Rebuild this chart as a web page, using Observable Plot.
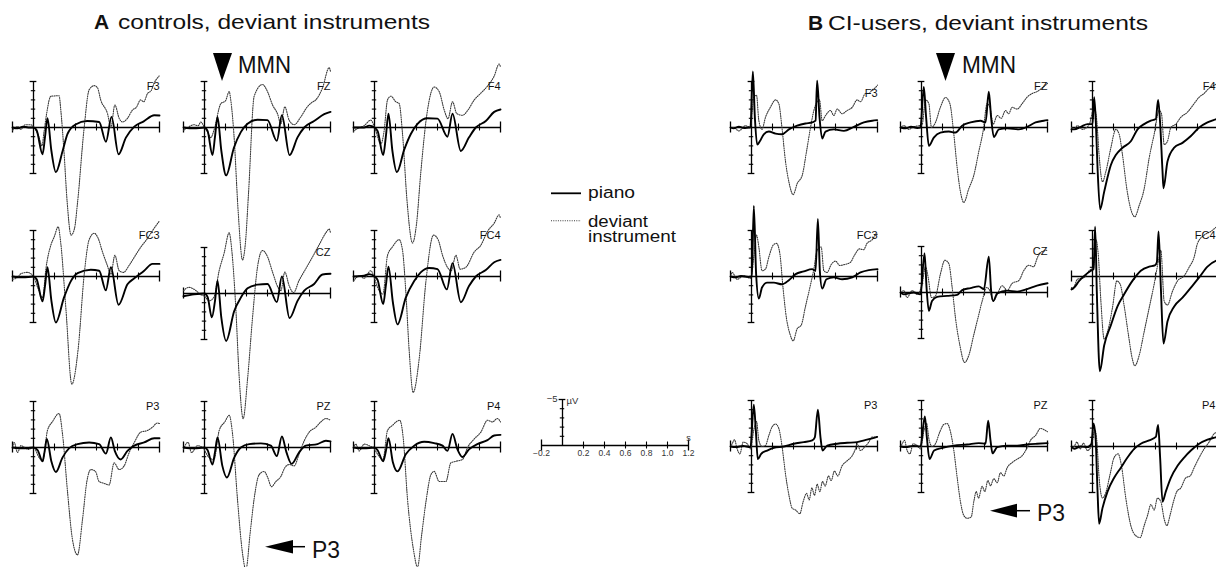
<!DOCTYPE html>
<html>
<head>
<meta charset="utf-8">
<script src="https://cdn.jsdelivr.net/npm/d3@7"></script>
<script src="https://cdn.jsdelivr.net/npm/@observablehq/plot@0.6"></script>
<style>
  html, body { margin: 0; padding: 0; background: #fff; }
  #wrap { position: relative; width: 1216px; height: 567px; overflow: hidden; background: #fff; font-family: "Liberation Sans", Arial, sans-serif; }
  #wrap svg.panel { position: absolute; }
  #overlay { position: absolute; left: 0; top: 0; pointer-events: none; }
</style>
</head>
<body>
<div id="wrap"></div>
<script>
// ---------- axis ticks ----------
const xTicks = [-0.2, 0.2, 0.4, 0.6, 0.8, 1.0, 1.2];
const xTickLabels = ["\u22120.2", "0.2", "0.4", "0.6", "0.8", "1.0", "1.2"];
const yTicks = [-5, -4, -3, -2, -1, 1, 2, 3, 4, 5];
const yUnitTick = -5;

// ---------- A: controls (time s, amplitude µV; negative up) ----------
const A_F3_piano = [[-0.2,0],[-0.15,0.1],[-0.1,-0.1],[-0.05,0],[0,0],[0.03,0.3],[0.086,2.9],[0.11,1.0],[0.133,-1.0],[0.17,2.5],[0.213,4.85],[0.276,2.6],[0.324,0.7],[0.40,-0.33],[0.51,-0.7],[0.625,-0.6],[0.69,1.55],[0.743,-1.15],[0.81,2.9],[0.88,1.1],[0.96,-0.1],[1.05,-0.67],[1.15,-1.33],[1.2,-1.3]];
const A_F3_dev = [[-0.2,0.3],[-0.15,-0.1],[-0.12,0.2],[-0.08,-0.3],[-0.03,-0.3],[0.006,0],[0.054,1.1],[0.08,2.0],[0.1,0.5],[0.125,-1.5],[0.165,-3.4],[0.244,-3.45],[0.26,-1.9],[0.29,2.55],[0.32,8.0],[0.358,11.7],[0.39,11.0],[0.42,8.1],[0.48,0.3],[0.53,-4.1],[0.578,-4.55],[0.61,-4.3],[0.64,-3.0],[0.705,-1.5],[0.737,0],[0.775,-2.45],[0.816,-1.0],[0.848,-0.6],[0.895,-1.0],[0.943,-1.9],[0.98,-2.2],[1.02,-3.0],[1.05,-2.8],[1.086,-3.7],[1.12,-4.0],[1.15,-4.85],[1.197,-5.6]];
const A_FZ_piano = [[-0.2,0],[-0.1,0.1],[0,0],[0.03,0.4],[0.076,3.0],[0.1,1.0],[0.124,-1.15],[0.16,2.5],[0.206,5.2],[0.28,2.2],[0.346,0.5],[0.41,-0.4],[0.505,-0.85],[0.6,-0.8],[0.689,1.45],[0.737,-1.33],[0.81,3.0],[0.886,1.07],[0.95,0],[1.044,-0.7],[1.14,-1.45],[1.2,-1.7]];
const A_FZ_dev = [[-0.2,0.3],[-0.16,0],[-0.1,-0.3],[-0.06,-0.2],[-0.035,-0.6],[0,0],[0.03,0.5],[0.06,1.1],[0.09,0.3],[0.156,-2.6],[0.2,-2.9],[0.235,-3.9],[0.25,-3.0],[0.28,0.7],[0.32,9.0],[0.362,14.4],[0.39,12.5],[0.42,7.0],[0.473,-3.4],[0.552,-4.67],[0.6,-3.9],[0.648,-2.45],[0.695,-1.5],[0.727,-0.4],[0.765,-2.25],[0.806,-0.8],[0.854,-0.3],[0.917,-1.15],[0.98,-2.26],[1.02,-2.7],[1.06,-3.0],[1.124,-4.3],[1.187,-6.5],[1.2,-6.1]];
const A_F4_piano = [[-0.2,0],[-0.1,0],[-0.05,-0.2],[0,0],[0.03,0.4],[0.083,3.0],[0.108,1.0],[0.133,-1.5],[0.17,2.5],[0.213,4.85],[0.283,2.4],[0.346,0.7],[0.41,-0.4],[0.505,-1.0],[0.6,-0.96],[0.695,1.0],[0.743,-1.5],[0.822,2.55],[0.9,1.07],[0.965,0],[1.06,-0.7],[1.14,-1.7],[1.2,-1.96]];
const A_F4_dev = [[-0.2,0.4],[-0.16,0.1],[-0.1,-0.2],[-0.035,-0.8],[0.01,0.3],[0.06,1.8],[0.09,0.5],[0.124,-3.0],[0.156,-3.4],[0.203,-2.8],[0.235,-2.6],[0.267,0.7],[0.31,8.0],[0.362,12.55],[0.4,10.5],[0.44,5.0],[0.505,-1.9],[0.568,-4.4],[0.616,-3.9],[0.664,-1.9],[0.7,-0.96],[0.743,-2.8],[0.784,-1.5],[0.838,-1.33],[0.89,-1.9],[0.95,-3.0],[1.01,-3.7],[1.076,-4.5],[1.14,-5.6],[1.187,-6.9],[1.2,-6.6]];
const A_FC3_piano = [[-0.2,0],[-0.1,0.1],[0,0],[0.03,0.3],[0.086,2.7],[0.11,1.0],[0.133,-1.0],[0.17,2.6],[0.213,5.0],[0.29,2.3],[0.356,0.5],[0.42,-0.37],[0.546,-0.74],[0.625,-0.63],[0.689,1.5],[0.737,-1.0],[0.81,3.07],[0.895,0.85],[0.96,0.2],[1.054,-0.63],[1.133,-1.37],[1.2,-1.37]];
const A_FC3_dev = [[-0.2,0.3],[-0.15,0.1],[-0.12,-0.3],[-0.06,-0.45],[0,0],[0.04,1.2],[0.086,2.3],[0.12,-1.0],[0.165,-3.4],[0.197,-4.3],[0.235,-5.4],[0.26,-3.6],[0.308,3.4],[0.365,11.7],[0.425,7.9],[0.483,-0.26],[0.53,-4.0],[0.578,-4.7],[0.616,-4.15],[0.657,-2.67],[0.698,-1.37],[0.737,-0.26],[0.775,-2.3],[0.816,-0.63],[0.857,-0.45],[0.91,-1.2],[0.96,-2.1],[1.022,-3.2],[1.086,-4.15],[1.15,-5.26],[1.197,-6.0]];
const A_CZ_piano = [[-0.2,0.3],[-0.1,0.1],[0,0],[0.03,0.4],[0.07,2.6],[0.1,0.8],[0.124,-1.4],[0.16,2.6],[0.206,5.15],[0.283,1.9],[0.346,0.45],[0.41,-0.56],[0.505,-0.96],[0.6,-1.04],[0.689,0.93],[0.737,-1.85],[0.81,2.67],[0.886,0.8],[0.95,-0.3],[1.044,-1.04],[1.124,-2.07],[1.2,-2.15]];
const A_CZ_dev = [[-0.2,-0.3],[-0.15,-0.67],[-0.08,-0.3],[-0.04,0.1],[0,0.3],[0.044,0.8],[0.09,0.4],[0.14,-2.5],[0.187,-4.4],[0.235,-6.6],[0.26,-4.7],[0.298,1.55],[0.33,9.0],[0.368,13.6],[0.41,9.3],[0.457,2.67],[0.505,-2.9],[0.552,-4.67],[0.6,-4.0],[0.648,-2.33],[0.7,-0.67],[0.727,-0.3],[0.765,-2.33],[0.806,-0.85],[0.848,-0.1],[0.9,-1.4],[0.965,-2.7],[1.03,-4.0],[1.092,-5.3],[1.156,-6.6],[1.187,-7.0],[1.2,-6.6]];
const A_FC4_piano = [[-0.2,0],[-0.1,-0.1],[-0.05,-0.26],[0,0],[0.03,0.4],[0.083,3.0],[0.108,1.0],[0.133,-1.07],[0.175,2.8],[0.219,5.2],[0.298,2.3],[0.378,0.5],[0.44,-0.45],[0.52,-0.93],[0.6,-0.8],[0.689,1.4],[0.743,-1.45],[0.822,2.8],[0.9,1.04],[0.965,0],[1.06,-0.7],[1.14,-1.55],[1.2,-1.8]];
const A_FC4_dev = [[-0.2,0.5],[-0.14,-0.1],[-0.1,0.2],[-0.035,-0.63],[0,0.2],[0.03,1.2],[0.08,1.9],[0.124,-2.3],[0.17,-3.2],[0.235,-4.0],[0.267,-2.85],[0.298,1.6],[0.33,8.0],[0.368,12.6],[0.425,9.0],[0.49,0.5],[0.562,-4.5],[0.606,-4.0],[0.648,-2.3],[0.695,-1.0],[0.73,-0.63],[0.775,-2.3],[0.816,-0.8],[0.87,-1.0],[0.95,-2.67],[1.013,-3.4],[1.076,-4.9],[1.14,-5.8],[1.187,-6.7],[1.2,-6.3]];
const A_P3_piano = [[-0.2,0],[-0.1,0.1],[0,0],[0.04,0.3],[0.086,1.5],[0.105,0.5],[0.127,-0.93],[0.17,1.5],[0.213,2.67],[0.276,1.1],[0.34,0.07],[0.42,-0.37],[0.53,-0.55],[0.625,-0.37],[0.69,0.67],[0.737,-1.1],[0.775,0.4],[0.83,1.3],[0.895,0.37],[0.96,-0.2],[1.054,-0.55],[1.15,-1.0],[1.2,-1.0]];
const A_P3_dev = [[-0.2,0],[-0.184,-0.55],[-0.152,0.55],[-0.12,-0.2],[-0.05,0.2],[0,0],[0.054,1.1],[0.086,1.5],[0.133,-1.85],[0.18,-2.8],[0.244,-3.7],[0.276,-1.5],[0.324,4.8],[0.371,10.0],[0.419,11.67],[0.467,7.8],[0.508,3.7],[0.546,2.4],[0.59,2.6],[0.625,3.7],[0.673,3.9],[0.72,4.07],[0.768,1.67],[0.816,2.4],[0.863,2.0],[0.911,0.55],[0.96,-0.55],[1.022,-1.67],[1.086,-1.85],[1.133,-2.2],[1.18,-2.67],[1.2,-2.6]];
const A_PZ_piano = [[-0.2,0],[-0.1,0.1],[0,0],[0.03,0.3],[0.076,1.85],[0.1,0.5],[0.124,-1.1],[0.17,2.0],[0.213,3.26],[0.283,1.1],[0.346,0],[0.425,-0.37],[0.537,-0.45],[0.632,-0.2],[0.689,0.93],[0.737,-1.2],[0.78,0.5],[0.83,1.78],[0.9,0.55],[0.965,-0.2],[1.076,-0.37],[1.156,-0.74],[1.2,-0.67]];
const A_PZ_dev = [[-0.2,0.2],[-0.178,-0.37],[-0.156,-0.55],[-0.124,0.55],[-0.067,-0.2],[-0.019,0],[0.044,1.1],[0.09,1.3],[0.14,-1.85],[0.194,-2.8],[0.235,-3.5],[0.267,-1.5],[0.314,5.6],[0.362,11.5],[0.394,13.3],[0.435,9.26],[0.473,5.55],[0.52,2.96],[0.568,2.6],[0.6,3.2],[0.638,4.26],[0.68,3.7],[0.727,3.15],[0.765,2.2],[0.806,1.85],[0.854,2.0],[0.9,0.74],[0.95,-0.74],[0.997,-1.67],[1.06,-2.2],[1.108,-2.78],[1.156,-3.15],[1.2,-2.96]];
const A_P4_piano = [[-0.2,0],[-0.1,0.1],[0,0],[0.03,0.3],[0.083,1.5],[0.108,0.4],[0.133,-1.0],[0.175,1.6],[0.219,2.6],[0.298,0.74],[0.378,-0.2],[0.473,-0.63],[0.568,-0.48],[0.648,-0.2],[0.695,0.37],[0.743,-1.48],[0.79,0.2],[0.838,1.04],[0.9,0.2],[0.98,-0.37],[1.076,-0.8],[1.14,-1.3],[1.2,-1.37]];
const A_P4_dev = [[-0.2,0],[-0.178,-0.37],[-0.146,0.37],[-0.098,-0.37],[-0.051,-0.2],[0,0.2],[0.03,0.74],[0.08,1.3],[0.124,-1.85],[0.17,-2.4],[0.24,-2.96],[0.273,-1.1],[0.314,5.55],[0.371,11.1],[0.41,13.0],[0.448,9.6],[0.49,5.9],[0.537,2.96],[0.568,2.6],[0.616,3.7],[0.68,3.7],[0.727,1.67],[0.775,1.5],[0.838,1.3],[0.886,0],[0.95,-0.93],[1.013,-1.67],[1.076,-2.96],[1.124,-2.78],[1.17,-3.15],[1.2,-2.78]];

// ---------- B: CI-users ----------
const B_F3_piano = [[-0.2,0],[-0.17,0.1],[-0.12,-0.1],[-0.07,0.05],[-0.025,0],[-0.01,0],[0.013,-6.1],[0.032,-1.1],[0.054,1.85],[0.079,1.5],[0.117,0.74],[0.165,0.44],[0.229,0.67],[0.29,0.74],[0.356,0.2],[0.435,-0.2],[0.514,-0.44],[0.578,-0.55],[0.61,-0.74],[0.625,-5.1],[0.648,-1.1],[0.673,1.2],[0.705,0.44],[0.784,0.2],[0.88,0.37],[0.975,-0.07],[1.07,-0.55],[1.15,-0.74],[1.197,-0.8]];
const B_F3_dev = [[-0.2,0],[-0.168,0],[-0.121,0.37],[-0.057,-0.2],[-0.01,0],[0.022,-3.3],[0.048,-3.5],[0.07,-0.74],[0.1,0.2],[0.133,-1.1],[0.18,-2.2],[0.229,-3.0],[0.26,-2.6],[0.29,0],[0.324,3.7],[0.356,5.9],[0.397,7.3],[0.435,6.1],[0.483,5.2],[0.524,2.6],[0.562,0],[0.594,-1.85],[0.648,-3.0],[0.673,-0.74],[0.705,-1.3],[0.752,-1.85],[0.784,-1.3],[0.816,-2.0],[0.864,-1.5],[0.911,-1.85],[0.96,-2.2],[1.006,-3.0],[1.038,-2.8],[1.086,-3.7],[1.117,-3.7],[1.15,-4.1],[1.172,-4.26],[1.2,-4.6]];
const B_FZ_piano = [[-0.2,0],[-0.15,0.1],[-0.1,-0.1],[-0.04,0.05],[-0.01,0],[0.022,-4.4],[0.044,-1.1],[0.07,2.0],[0.117,1.1],[0.18,0.55],[0.26,0.44],[0.324,0.55],[0.387,-0.2],[0.467,-0.55],[0.562,-0.74],[0.61,-0.55],[0.641,-3.9],[0.663,-1.1],[0.689,1.04],[0.737,0.2],[0.816,0.1],[0.927,0.2],[1.006,-0.07],[1.086,-0.55],[1.165,-0.74],[1.2,-0.8]];
const B_FZ_dev = [[-0.2,0],[-0.168,-0.2],[-0.121,0.2],[-0.073,-0.07],[0.006,-0.3],[0.038,-3.0],[0.07,-2.6],[0.095,0],[0.133,-0.55],[0.18,-2.2],[0.229,-3.26],[0.27,-2.6],[0.308,0.74],[0.34,4.4],[0.371,7.0],[0.403,8.15],[0.45,6.67],[0.498,5.2],[0.546,2.6],[0.587,0.37],[0.625,-2.6],[0.651,-2.2],[0.683,-0.37],[0.721,-1.3],[0.76,-1.0],[0.8,-1.85],[0.83,-1.5],[0.864,-2.2],[0.911,-2.0],[0.959,-2.6],[1.006,-3.3],[1.054,-3.7],[1.1,-3.9],[1.149,-4.3],[1.2,-4.8]];
const B_F4_piano = [[-0.2,0.2],[-0.175,0.2],[-0.111,-0.07],[-0.048,-0.37],[0,-0.37],[0.016,-3.3],[0.032,-0.5],[0.048,4.4],[0.073,8.9],[0.111,7.0],[0.175,4.07],[0.222,3.0],[0.286,2.2],[0.365,1.5],[0.429,0.2],[0.492,-0.37],[0.556,-0.74],[0.603,-0.93],[0.625,-3.0],[0.644,-0.5],[0.667,4.8],[0.676,6.6],[0.714,3.7],[0.778,2.2],[0.857,1.67],[0.937,0.93],[1.016,0],[1.095,-0.55],[1.184,-0.93],[1.2,-1.0]];
const B_F4_dev = [[-0.2,0],[-0.175,0.2],[-0.143,-0.2],[-0.095,0.2],[-0.032,-0.3],[0.016,-2.2],[0.041,-0.7],[0.063,3.0],[0.095,5.9],[0.127,4.8],[0.175,2.2],[0.222,0.2],[0.254,0.74],[0.286,3.0],[0.327,6.67],[0.365,8.9],[0.403,9.7],[0.444,8.5],[0.492,6.67],[0.54,3.3],[0.587,0.74],[0.635,-1.85],[0.657,-1.5],[0.683,1.85],[0.714,1.5],[0.746,0],[0.794,-0.37],[0.84,-1.1],[0.905,-1.67],[0.968,-2.6],[1.016,-3.3],[1.063,-3.7],[1.11,-4.26],[1.184,-4.8],[1.2,-5.0]];
const B_FC3_piano = [[-0.2,0],[-0.15,0.1],[-0.1,-0.05],[-0.03,0.05],[0.003,0],[0.022,-7.67],[0.044,-0.26],[0.07,2.4],[0.1,1.2],[0.149,0.67],[0.213,0.67],[0.29,0.85],[0.356,0.4],[0.42,-0.26],[0.498,-0.55],[0.578,-0.8],[0.61,-0.6],[0.632,-6.26],[0.651,-0.6],[0.673,1.3],[0.714,0.3],[0.784,0.1],[0.864,0.3],[0.96,0.1],[1.038,-0.44],[1.117,-0.7],[1.2,-0.8]];
const B_FC3_dev = [[-0.2,0],[-0.184,-0.44],[-0.137,0.3],[-0.073,-0.07],[-0.01,0.2],[0.022,-2.1],[0.048,-4.5],[0.07,-3.2],[0.1,-0.63],[0.133,-0.8],[0.165,-2.1],[0.206,-3.4],[0.238,-3.6],[0.27,-2.5],[0.3,1.2],[0.333,4.55],[0.365,6.2],[0.397,7.0],[0.435,5.67],[0.473,5.3],[0.514,3.26],[0.556,1.2],[0.594,-0.8],[0.625,-2.85],[0.664,-3.2],[0.689,-0.63],[0.72,-0.44],[0.759,-1.3],[0.8,-1.67],[0.841,-1.2],[0.886,-1.3],[0.943,-1.55],[0.98,-2.3],[1.03,-3.0],[1.067,-2.9],[1.1,-3.6],[1.15,-4.0],[1.18,-4.5],[1.2,-4.6]];
const B_CZ_piano = [[-0.2,0],[-0.168,0.2],[-0.073,0],[-0.01,0.2],[0.029,-4.26],[0.048,-0.55],[0.07,2.0],[0.1,0.93],[0.149,0.48],[0.244,0.37],[0.34,0.26],[0.387,-0.26],[0.467,-0.48],[0.546,-0.67],[0.594,-0.37],[0.641,-3.9],[0.663,-0.2],[0.683,0.93],[0.721,0.1],[0.816,-0.2],[0.911,-0.1],[1.006,-0.37],[1.1,-0.74],[1.2,-1.0]];
const B_CZ_dev = [[-0.2,0],[-0.168,-0.2],[-0.137,0.55],[-0.089,-0.2],[-0.041,0.2],[0.006,-0.93],[0.038,-2.8],[0.063,-1.67],[0.095,0.55],[0.133,0.37],[0.18,-2.0],[0.222,-3.5],[0.26,-3.15],[0.292,-0.55],[0.324,2.8],[0.365,5.7],[0.41,7.6],[0.45,6.85],[0.498,4.6],[0.537,2.8],[0.578,0.93],[0.62,-0.55],[0.651,-0.2],[0.683,0.93],[0.721,0.2],[0.768,-0.74],[0.816,-0.2],[0.864,-1.0],[0.927,-1.3],[0.975,-2.4],[1.022,-2.96],[1.067,-2.8],[1.108,-3.9],[1.14,-4.4],[1.2,-4.6]];
const B_FC4_piano = [[-0.2,1.4],[-0.175,1.2],[-0.127,0.48],[-0.079,-0.07],[-0.016,-0.63],[0.01,-0.8],[0.025,-5.4],[0.041,1.6],[0.07,10.3],[0.111,7.5],[0.175,5.3],[0.238,3.26],[0.3,1.96],[0.38,0.48],[0.46,-0.63],[0.54,-1.07],[0.594,-1.2],[0.613,-1.55],[0.629,-4.9],[0.651,1.2],[0.676,7.3],[0.714,4.9],[0.778,3.26],[0.857,2.3],[0.937,1.2],[1.016,0.1],[1.095,-1.07],[1.184,-1.74],[1.2,-1.8]];
const B_FC4_dev = [[-0.2,1.2],[-0.19,1.4],[-0.143,0.3],[-0.079,0.1],[-0.032,-0.63],[0.01,-1.0],[0.032,-4.0],[0.054,-2.5],[0.08,2.7],[0.111,6.8],[0.143,6.0],[0.19,3.4],[0.232,0.48],[0.264,0.85],[0.3,3.07],[0.343,6.4],[0.38,9.0],[0.403,9.7],[0.444,8.6],[0.492,6.0],[0.54,3.4],[0.587,0.85],[0.635,-2.1],[0.651,-2.85],[0.683,2.7],[0.714,3.1],[0.762,1.6],[0.81,0.48],[0.873,-0.07],[0.92,-1.0],[0.968,-2.1],[1.0,-3.6],[1.063,-4.5],[1.127,-4.9],[1.184,-5.4],[1.2,-5.5]];
const B_P3_piano = [[-0.2,0],[-0.15,0.07],[-0.08,-0.07],[-0.01,0.07],[0.022,-4.55],[0.041,-1.8],[0.06,1.37],[0.092,0.8],[0.149,0.44],[0.213,0.15],[0.308,0],[0.403,-0.3],[0.498,-0.48],[0.578,-0.67],[0.603,-1.0],[0.632,-4.0],[0.657,-1.0],[0.676,0.44],[0.721,-0.1],[0.816,-0.3],[0.911,-0.4],[1.006,-0.48],[1.1,-0.74],[1.197,-1.04]];
const B_P3_dev = [[-0.2,0],[-0.184,-0.3],[-0.162,-0.74],[-0.137,0.26],[-0.111,0.8],[-0.079,-0.48],[-0.041,-0.3],[-0.01,0.26],[0.022,-1.8],[0.048,-2.7],[0.07,-0.67],[0.1,0],[0.133,-0.1],[0.165,-1.2],[0.197,-2.15],[0.229,-2.44],[0.26,-1.96],[0.292,0.07],[0.324,3.0],[0.356,5.26],[0.387,6.7],[0.419,6.9],[0.46,7.3],[0.492,6.0],[0.524,5.1],[0.549,5.8],[0.575,4.5],[0.6,5.3],[0.625,4.1],[0.651,4.9],[0.676,3.8],[0.702,4.3],[0.733,3.2],[0.759,3.7],[0.79,2.67],[0.822,3.2],[0.863,2.1],[0.911,1.55],[0.959,1.0],[0.99,0.26],[1.006,-0.3],[1.038,0.44],[1.076,0.07],[1.117,-0.48],[1.15,-1.04],[1.19,-1.04],[1.2,-1.1]];
const B_PZ_piano = [[-0.2,0],[-0.15,0.07],[-0.08,-0.07],[-0.01,0],[0.032,-3.26],[0.051,-1.0],[0.076,1.37],[0.12,0.44],[0.2,0.15],[0.308,-0.1],[0.435,-0.22],[0.546,-0.37],[0.61,-0.3],[0.635,-2.8],[0.657,-0.67],[0.676,0.74],[0.721,0.07],[0.816,-0.1],[0.911,-0.1],[1.006,-0.22],[1.1,-0.3],[1.2,-0.37]];
const B_PZ_dev = [[-0.2,0],[-0.184,-0.3],[-0.162,-0.67],[-0.137,0.44],[-0.111,0.8],[-0.079,-0.3],[-0.041,-0.1],[-0.01,0.26],[0.025,-1.8],[0.048,-2.5],[0.073,-0.67],[0.102,0],[0.133,-0.3],[0.175,-1.6],[0.213,-2.4],[0.244,-2.5],[0.276,-1.6],[0.308,0.44],[0.34,3.4],[0.371,6.0],[0.403,7.5],[0.435,7.8],[0.473,7.67],[0.498,6.0],[0.521,4.9],[0.543,5.6],[0.578,4.33],[0.603,4.9],[0.632,3.7],[0.657,4.26],[0.689,3.5],[0.721,3.94],[0.752,2.85],[0.784,3.2],[0.816,2.3],[0.864,1.74],[0.911,1.37],[0.959,1.0],[1.0,0.26],[1.038,-0.67],[1.086,-1.2],[1.133,-1.96],[1.181,-1.74],[1.2,-1.6]];
const B_P4_piano = [[-0.2,0],[-0.175,0.26],[-0.111,0],[-0.048,0.07],[-0.01,-0.3],[0.01,-2.5],[0.029,-1.0],[0.048,4.9],[0.063,8.4],[0.095,6.7],[0.143,4.9],[0.206,3.4],[0.27,2.3],[0.333,1.2],[0.397,0.26],[0.46,-0.3],[0.54,-0.67],[0.603,-1.04],[0.625,-2.33],[0.644,1.2],[0.667,6.0],[0.698,4.9],[0.746,3.4],[0.81,2.1],[0.873,1.2],[0.937,0.44],[1.016,-0.3],[1.095,-0.74],[1.184,-1.04],[1.2,-1.1]];
const B_P4_dev = [[-0.2,0],[-0.181,0.07],[-0.149,-0.48],[-0.117,0.26],[-0.086,-0.37],[-0.048,0.44],[-0.01,-0.1],[0.022,-1.8],[0.041,-0.67],[0.063,3.4],[0.095,5.6],[0.127,5.0],[0.168,3.0],[0.206,1.2],[0.244,0.8],[0.276,2.1],[0.317,5.6],[0.365,8.6],[0.413,9.7],[0.454,9.9],[0.492,8.6],[0.524,7.5],[0.556,6.3],[0.587,6.9],[0.619,5.6],[0.651,6.0],[0.683,7.9],[0.708,8.6],[0.74,7.4],[0.771,6.0],[0.803,4.9],[0.841,4.5],[0.889,3.4],[0.93,3.2],[0.968,2.3],[1.016,1.2],[1.063,0.26],[1.11,-0.48],[1.16,-1.4],[1.2,-1.6]];

// ---------- layout ----------
const FONT = "'Liberation Sans', Arial, Helvetica, sans-serif";
const PW = 147, PH = 92;          // panel frame: x -0.2..1.2 s, y -5..+5 µV
const wrap = document.getElementById("wrap");

function axisMarks() {
  return [
    Plot.ruleY([0], {stroke: "#000", strokeWidth: 1.3}),
    Plot.ruleX(xTicks.filter(d => d > -0.2 && d < 1.2), {x: d => d, y1: -0.38, y2: 0.38, stroke: "#000", strokeWidth: 1.1}),
    Plot.ruleX([xTicks[0], xTicks[xTicks.length - 1]], {x: d => d, y1: -0.6, y2: 0.6, stroke: "#000", strokeWidth: 1.3})
  ];
}

function panel(name, piano, deviant, left, zeroY, labelDy = 5, labelDx = 0) {
  const svg = Plot.plot({
    width: PW, height: PH, margin: 0,
    x: {domain: [-0.2, 1.2], axis: null},
    y: {domain: [-5, 5], reverse: true, axis: null},
    style: {overflow: "visible", background: "none", fontFamily: FONT},
    marks: [
      ...axisMarks(),
      Plot.ruleX([0], {y1: -5, y2: 5, stroke: "#000", strokeWidth: 1.3}),
      Plot.ruleY(yTicks.filter(d => Math.abs(d) < 5), {y: d => d, x1: -0.021, x2: 0.021, stroke: "#000", strokeWidth: 1.1}),
      Plot.ruleY([yTicks[0], yTicks[yTicks.length - 1]], {y: d => d, x1: -0.032, x2: 0.032, stroke: "#000", strokeWidth: 1.3}),
      Plot.line(deviant, {x: d => d[0], y: d => d[1], curve: "monotone-x", stroke: "#3a3a3a", strokeWidth: 1.1, strokeDasharray: "1,1.3"}),
      Plot.line(piano, {x: d => d[0], y: d => d[1], curve: "monotone-x", stroke: "#000", strokeWidth: 1.9}),
      Plot.text([name], {text: d => d, frameAnchor: "top-right", dx: labelDx, dy: labelDy, lineAnchor: "middle", textAnchor: "end", fontSize: 11, fill: "#111"})
    ]
  });
  svg.classList.add("panel");
  svg.style.left = left + "px";
  svg.style.top = (zeroY - PH / 2) + "px";
  wrap.appendChild(svg);
}

// A: controls
panel("F3",  A_F3_piano,  A_F3_dev,  12,  127);
panel("FZ",  A_FZ_piano,  A_FZ_dev,  183, 127);
panel("F4",  A_F4_piano,  A_F4_dev,  353, 127);
panel("FC3", A_FC3_piano, A_FC3_dev, 12,  275.7);
panel("CZ",  A_CZ_piano,  A_CZ_dev,  183, 292.7);
panel("FC4", A_FC4_piano, A_FC4_dev, 353, 275.7);
panel("P3",  A_P3_piano,  A_P3_dev,  12,  446.7);
panel("PZ",  A_PZ_piano,  A_PZ_dev,  183, 446.7);
panel("P4",  A_P4_piano,  A_P4_dev,  353, 446.7);
// B: CI-users
panel("F3",  B_F3_piano,  B_F3_dev,  730,  126.7, 12);
panel("FZ",  B_FZ_piano,  B_FZ_dev,  900,  126.7);
panel("F4",  B_F4_piano,  B_F4_dev,  1070.7, 126.7, 5, -3);
panel("FC3", B_FC3_piano, B_FC3_dev, 730,  275.7);
panel("CZ",  B_CZ_piano,  B_CZ_dev,  900,  291.7);
panel("FC4", B_FC4_piano, B_FC4_dev, 1070.7, 275.7, 5, -3);
panel("P3",  B_P3_piano,  B_P3_dev,  730,  446);
panel("PZ",  B_PZ_piano,  B_PZ_dev,  900,  446);
panel("P4",  B_P4_piano,  B_P4_dev,  1070.7, 446, 5, -3);

// scale panel
{
  const svg = Plot.plot({
    width: PW, height: PH, margin: 0,
    x: {domain: [-0.2, 1.2], axis: null},
    y: {domain: [-5, 5], reverse: true, axis: null},
    style: {overflow: "visible", background: "none", fontFamily: FONT},
    marks: [
      ...axisMarks(),
      Plot.ruleX([0], {y1: yUnitTick, y2: 0, stroke: "#000", strokeWidth: 1.3}),
      Plot.ruleY(yTicks.filter(d => d < 0 && d > yUnitTick), {y: d => d, x1: -0.021, x2: 0.021, stroke: "#000", strokeWidth: 1.1}),
      Plot.ruleY([yUnitTick], {y: d => d, x1: -0.032, x2: 0.032, stroke: "#000", strokeWidth: 1.3}),
      Plot.text(xTicks, {x: d => d, y: 0, text: (d, i) => xTickLabels[i], dy: 8, fontSize: 8.5, fill: "#333"}),
      Plot.text([yUnitTick], {x: 0, y: d => d, text: () => "\u22125", dx: -5, dy: -1, textAnchor: "end", fontSize: 9.5, fill: "#333"}),
      Plot.text([yUnitTick], {x: 0, y: d => d, text: () => "\u00b5V", dx: 4, dy: 1, textAnchor: "start", fontSize: 9.5, fill: "#333"}),
      Plot.text([xTicks[xTicks.length - 1]], {x: d => d, y: 0, text: () => "s", dy: -7, fontSize: 9, fill: "#333"})
    ]
  });
  svg.classList.add("panel");
  svg.style.left = "541px";
  svg.style.top = (445 - PH / 2) + "px";
  wrap.appendChild(svg);
}

// ---------- titles, legend, annotations ----------
const ns = "http://www.w3.org/2000/svg";
const ov = document.createElementNS(ns, "svg");
ov.setAttribute("id", "overlay");
ov.setAttribute("width", 1216);
ov.setAttribute("height", 567);
ov.setAttribute("font-family", FONT);
ov.innerHTML = `
  <text x="94" y="29" font-size="21" font-weight="bold" fill="#111">A</text>
  <text x="118" y="29" font-size="21" fill="#111" textLength="312" lengthAdjust="spacingAndGlyphs">controls, deviant instruments</text>
  <text x="808" y="30" font-size="21" font-weight="bold" fill="#111">B</text>
  <text x="828" y="30" font-size="21" fill="#111" textLength="320" lengthAdjust="spacingAndGlyphs">CI-users, deviant instruments</text>

  <polygon points="213,53 232,53 222,81" fill="#000"/>
  <text x="238" y="73.3" font-size="24" fill="#111" textLength="53" lengthAdjust="spacingAndGlyphs">MMN</text>
  <polygon points="936,53 955,53 945.5,81" fill="#000"/>
  <text x="962" y="73.3" font-size="24" fill="#111" textLength="54" lengthAdjust="spacingAndGlyphs">MMN</text>

  <polygon points="265,546.7 293,540 293,553.4" fill="#000"/>
  <line x1="293" y1="546.7" x2="305" y2="546.7" stroke="#000" stroke-width="1.5"/>
  <text x="312" y="558" font-size="24" fill="#111" textLength="28" lengthAdjust="spacingAndGlyphs">P3</text>
  <polygon points="990,510.7 1017,503.8 1017,517.6" fill="#000"/>
  <line x1="1017" y1="510.7" x2="1030" y2="510.7" stroke="#000" stroke-width="1.5"/>
  <text x="1037" y="521" font-size="24" fill="#111" textLength="28" lengthAdjust="spacingAndGlyphs">P3</text>

  <line x1="551" y1="193.3" x2="581" y2="193.3" stroke="#000" stroke-width="1.8"/>
  <text x="588" y="197.5" font-size="16" fill="#111" textLength="47" lengthAdjust="spacingAndGlyphs">piano</text>
  <line x1="551" y1="220.7" x2="581" y2="220.7" stroke="#3a3a3a" stroke-width="1.1" stroke-dasharray="1,1.3"/>
  <text x="588" y="226.5" font-size="16" fill="#111" textLength="60" lengthAdjust="spacingAndGlyphs">deviant</text>
  <text x="588" y="241.7" font-size="16" fill="#111" textLength="88" lengthAdjust="spacingAndGlyphs">instrument</text>
`;
wrap.appendChild(ov);
</script>
</body>
</html>
